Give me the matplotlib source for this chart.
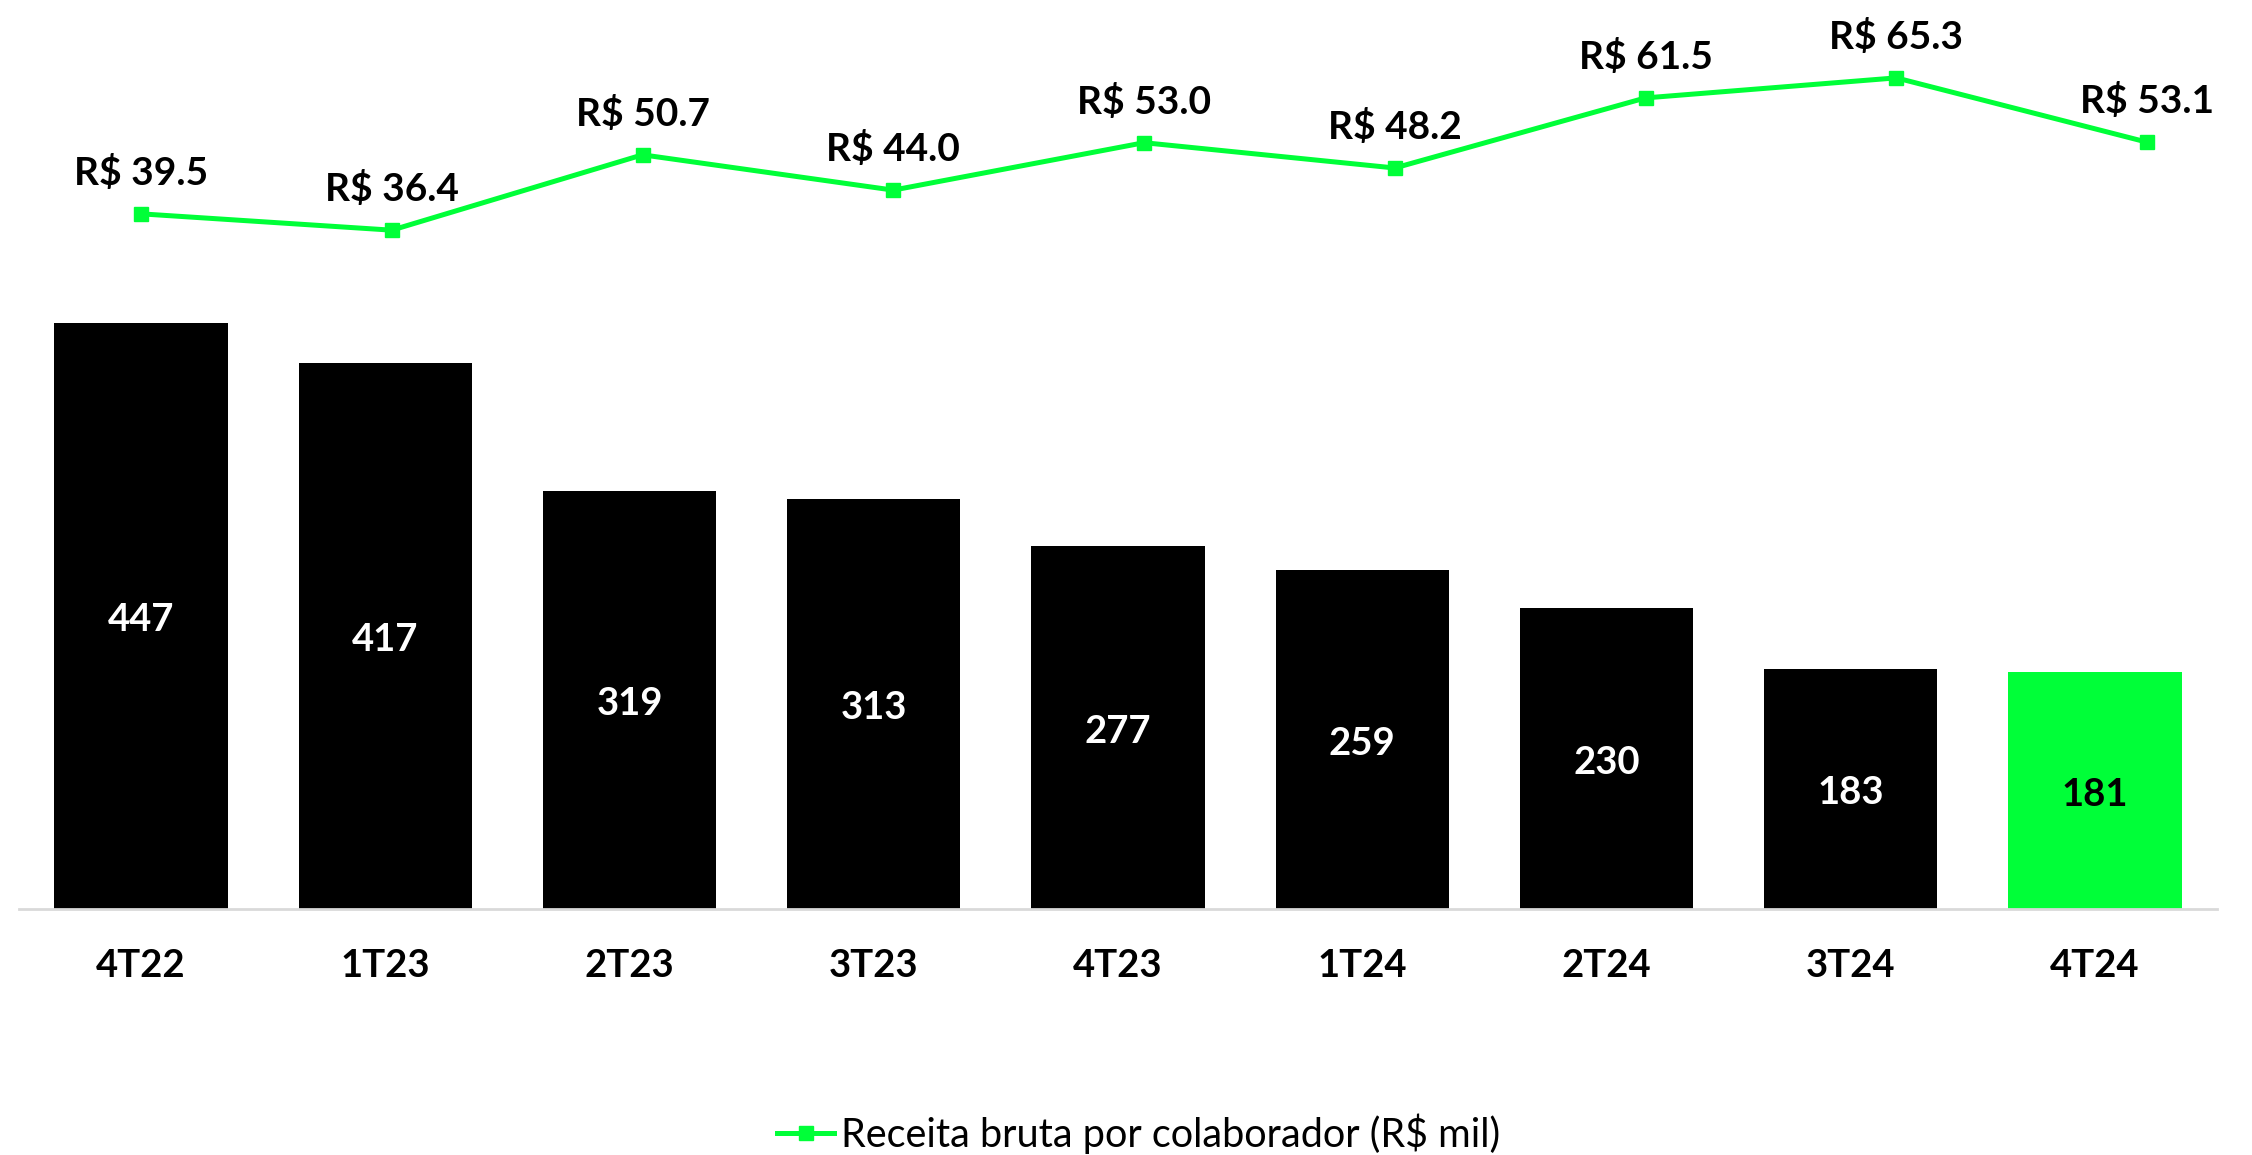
import matplotlib
matplotlib.use("Agg")
import matplotlib.pyplot as plt

plt.rcParams['font.family'] = ['Lato', 'DejaVu Sans']

quarters = ["4T22", "1T23", "2T23", "3T23", "4T23", "1T24", "2T24", "3T24", "4T24"]
colaboradores = [447, 417, 319, 313, 277, 259, 230, 183, 181]
receita_por_colab = [39.5, 36.4, 50.7, 44.0, 53.0, 48.2, 61.5, 65.3, 53.1]

GREEN = "#00FF38"
W, H = 2252, 1155

fig = plt.figure(figsize=(W / 100, H / 100), dpi=100)
rect = [19 / W, 1 - 909 / H, (2217 - 19) / W, 909 / H]
ax = fig.add_axes(rect)

x = list(range(len(quarters)))
bar_colors = ["black"] * (len(quarters) - 1) + [GREEN]
bars = ax.bar(x, colaboradores, width=0.71, color=bar_colors)
for i, (b, v) in enumerate(zip(bars, colaboradores)):
    ax.annotate(str(v), (b.get_x() + b.get_width() / 2, v / 2), xytext=(0, -3),
                textcoords="offset points", ha="center", va="center",
                fontsize=27.5, fontweight="bold",
                color="black" if i == len(quarters) - 1 else "white")

ax.set_xlim(-0.5, len(quarters) - 0.5)
ax.set_ylim(0, 909 / 1.31)
ax.set_xticks(x)
ax.set_xticklabels(quarters, fontsize=27.5, fontweight="bold")
ax.tick_params(axis="x", length=0, pad=29)
ax.set_yticks([])
for s in ["top", "left", "right"]:
    ax.spines[s].set_visible(False)
ax.spines["bottom"].set_color("#D9D9D9")
ax.spines["bottom"].set_linewidth(2)

# the line series sits on its own (slightly wider spaced) secondary axes
ax2 = fig.add_axes(rect, frameon=False)
ax2.set_xlim(-0.4866, 8.279)
ax2.set_ylim((422 - 909) / 5.27, 422 / 5.27)
line, = ax2.plot(x, receita_por_colab, color=GREEN, lw=3.6, marker="s", markersize=10,
                 label="Receita bruta por colaborador (R$ mil)")
for xi, v in zip(x, receita_por_colab):
    ax2.annotate(f"R$ {v:.1f}", (xi, v), xytext=(0, 29.5), textcoords="offset points",
                 ha="center", va="center", fontsize=28, fontweight="bold")
ax2.set_xticks([])
ax2.set_yticks([])

fig.legend(handles=[line], loc="center left", bbox_to_anchor=(777 / W, 1 - 1134 / H),
           frameon=False, fontsize=28.5, handlelength=1.44, handletextpad=0.18,
           borderpad=0, borderaxespad=0)

fig.savefig("out.png", dpi=100)
